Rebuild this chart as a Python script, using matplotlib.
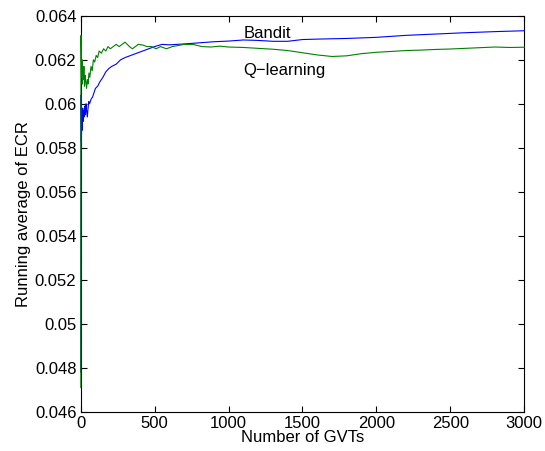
import matplotlib
matplotlib.use('Agg')
import matplotlib.pyplot as plt

plt.rcParams['font.family'] = ['Liberation Sans', 'DejaVu Sans']
plt.rcParams['font.size'] = 12

# Bandit running average
bandit_x = [1, 3, 5, 8, 11, 14, 17, 20, 24, 28,
            32, 36, 40, 45, 50, 55, 60, 70, 80, 90,
            100, 115, 130, 150, 170, 190, 210, 240, 270, 300,
            340, 380, 420, 460, 500, 550, 600, 650, 700, 800,
            900, 1000, 1100, 1200, 1300, 1400, 1500, 1600, 1800, 2000,
            2200, 2400, 2600, 2800, 3000]
bandit_y = [0.0478, 0.0604, 0.0583, 0.0596, 0.0588, 0.0598, 0.0592, 0.0597, 0.0594, 0.0599,
            0.0595, 0.0600, 0.0597, 0.0594, 0.0598, 0.0601, 0.0600, 0.0602, 0.0603, 0.0605,
            0.0607, 0.0608, 0.0610, 0.0612, 0.06145, 0.0616, 0.0617, 0.0618, 0.0620, 0.0621,
            0.0622, 0.0623, 0.0624, 0.0625, 0.0626, 0.0627, 0.06268, 0.0627, 0.06272, 0.06277,
            0.06282, 0.06285, 0.0629, 0.06288, 0.06284, 0.06284, 0.06292, 0.06294, 0.06297, 0.06302,
            0.06311, 0.06317, 0.06323, 0.06328, 0.06332]

# Q-learning running average
qlearn_x = [1, 2, 4, 6, 9, 12, 15, 18, 22, 26,
            30, 35, 40, 45, 50, 56, 62, 70, 78, 86,
            95, 105, 115, 125, 140, 155, 170, 185, 200, 220,
            240, 260, 280, 300, 315, 330, 350, 370, 390, 420,
            450, 480, 510, 540, 580, 620, 660, 700, 760, 820,
            880, 940, 1000, 1100, 1200, 1300, 1400, 1500, 1600, 1700,
            1800, 1900, 2000, 2100, 2200, 2300, 2400, 2500, 2600, 2700,
            2800, 2900, 3000]
qlearn_y = [0.0471, 0.0631, 0.0625, 0.0612, 0.0620, 0.0609, 0.0616, 0.0611, 0.0617, 0.0608,
            0.0613, 0.0610, 0.0607, 0.0611, 0.0609, 0.0614, 0.0612, 0.0617, 0.0615, 0.0620,
            0.0619, 0.0622, 0.0621, 0.0624, 0.0623, 0.0625, 0.0624, 0.0626, 0.0625, 0.0626,
            0.0627, 0.0626, 0.0627, 0.0628, 0.0627, 0.0626, 0.0625, 0.0626, 0.0627, 0.06267,
            0.0626, 0.0626, 0.0625, 0.0626, 0.0625, 0.0626, 0.06265, 0.0627, 0.0627, 0.0626,
            0.06258, 0.06262, 0.06258, 0.06256, 0.06252, 0.06248, 0.06242, 0.06232, 0.06222, 0.06215,
            0.06218, 0.06228, 0.06234, 0.06238, 0.06242, 0.06244, 0.06247, 0.06249, 0.06252, 0.06255,
            0.06258, 0.06256, 0.06257]

fig = plt.figure(figsize=(5.45, 4.51), dpi=100)
ax = fig.add_axes([0.148, 0.087, 0.814, 0.878])

ax.plot(bandit_x, bandit_y, color=(0, 0, 1), lw=0.8, zorder=3, clip_on=False, snap=False)
ax.plot(qlearn_x, qlearn_y, color=(0, 0.5, 0), lw=0.8, zorder=3.1, clip_on=False, snap=False)

ax.text(1100, 0.06321, 'Bandit', va='center', ha='left')
ax.text(1100, 0.06153, 'Q\u2212learning', va='center', ha='left')

ax.set_xlim(0, 3000)
ax.set_ylim(0.046, 0.064)
ax.set_xticks(range(0, 3001, 500))
yt = [0.046, 0.048, 0.05, 0.052, 0.054, 0.056, 0.058, 0.06, 0.062, 0.064]
ax.set_yticks(yt)
ax.set_yticklabels([('%g' % v) for v in yt])
ax.tick_params(direction='in', top=True, right=True, length=4, width=0.8, pad=3)
for s in ax.spines.values():
    s.set_linewidth(0.8)
    s.set_zorder(2)

ax.set_xlabel('Number of GVTs', labelpad=-1)
ax.set_ylabel('Running average of ECR', labelpad=3)

fig.savefig('out.png', dpi=100)
